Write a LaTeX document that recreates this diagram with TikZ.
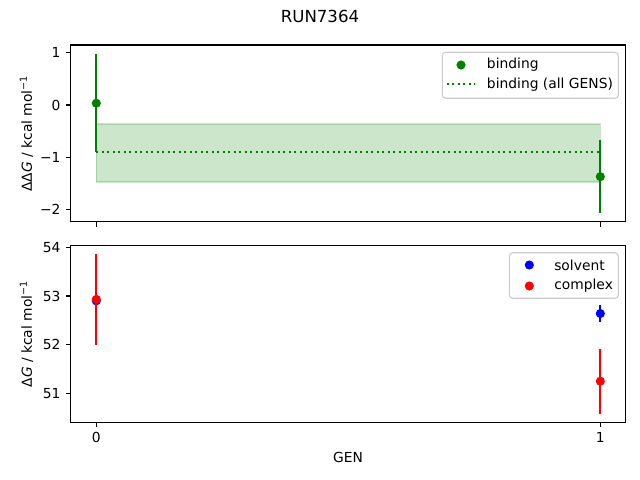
\documentclass[tikz,border=0pt]{standalone}
\usepackage{fontspec}
\setmainfont{DejaVu Sans}
\usepackage{tikz}
\usetikzlibrary{calc}

\definecolor{mplgreen}{RGB}{0,128,0}
\definecolor{mplblue}{RGB}{0,0,255}
\definecolor{mplred}{RGB}{255,0,0}
\definecolor{mplframe}{RGB}{204,204,204}

\tikzset{
  spine/.style={draw=black, line width=0.8pt},
  tickmark/.style={draw=black, line width=0.8pt},
  ticklbl/.style={font=\fontsize{10}{12}\selectfont, inner sep=0pt},
  errbar/.style={line width=1.5pt},
  legendbox/.style={draw=mplframe, fill=white, fill opacity=0.8, line width=0.8pt, rounded corners=2.5pt},
  legendtxt/.style={font=\fontsize{10}{12}\selectfont, anchor=west, inner sep=0pt},
  meanline/.style={draw=mplgreen, line width=1.5pt, dash pattern=on 1.5pt off 2.475pt},
}

% error bar with a dot on top: {x}{mean}{err}{colour}
\newcommand{\ErrDot}[4]{%
  \draw[errbar, #4] (#1,#2-#3) -- (#1,#2+#3);
  \fill[#4] (#1,#2) circle[radius=3.3pt];
}

\begin{document}
\begin{tikzpicture}[x=0.254mm, y=-0.254mm]
  \useasboundingbox (0,0) rectangle (640,480);

  % title
  \node[font=\fontsize{12}{14}\selectfont] (title) at (320,16.5) {RUN7364};

  % ---------- top panel ----------
  \begin{scope}[shift={(96.3,105)}, x=128.02mm, y=13.284mm]
    \fill[mplgreen, opacity=0.2] (0,-0.36) rectangle (1,-1.47);
    \draw[mplgreen, opacity=0.2, line width=1pt] (0,-0.36) rectangle (1,-1.47);
    \draw[meanline] (0,-0.893) -- (1,-0.893);
    \ErrDot{0}{0.033}{0.94}{mplgreen}
    \ErrDot{1}{-1.37}{0.695}{mplgreen}
  \end{scope}

  \draw[spine] (70.5,45) rectangle (625.7,221.8);
  \foreach \v/\lbl in {1/1, 0/0, -1/−1, -2/−2}{
    \draw[tickmark] (70.5,105-52.3*\v) -- ++(-4.86,0);
    \node[ticklbl, anchor=east] (ty\v) at (60.8,105-52.3*\v) {\lbl};
  }
  \foreach \g in {0,1}
    \draw[tickmark] (96.3+504*\g,221.8) -- ++(0,4.86);
  \node[rotate=90, font=\fontsize{10}{12}\selectfont] (ylabtop) at (26.5,133.4)
    {ΔΔ\textit{G} / kcal mol\textsuperscript{−1}};

  % legend top
  \draw[legendbox] (442.3,52.3) rectangle (618.3,98.3);
  \fill[mplgreen] (461,65) circle[radius=3.3pt];
  \node[legendtxt] (lbind) at (486.7,65) {binding};
  \draw[meanline] (446.7,84.3) -- (474.3,84.3);
  \node[legendtxt] (lall) at (486.7,84.3) {binding (all GENS)};

  % ---------- bottom panel ----------
  \begin{scope}[shift={(96.3,296)}, x=128.02mm, y=12.37mm]
    \ErrDot{0}{-0.10}{0.05}{mplblue}
    \ErrDot{1}{-0.36}{0.165}{mplblue}
    \ErrDot{0}{-0.07}{0.93}{mplred}
    \ErrDot{1}{-1.75}{0.665}{mplred}
  \end{scope}

  \draw[spine] (70.5,245.7) rectangle (625.7,422.3);
  \foreach \v in {54,53,52,51}{
    \draw[tickmark] (70.5,296-48.7*\v+48.7*53) -- ++(-4.86,0);
    \node[ticklbl, anchor=east] (tb\v) at (60.8,296-48.7*\v+48.7*53) {\v};
  }
  \foreach \g in {0,1}{
    \draw[tickmark] (96.3+504*\g,422.3) -- ++(0,4.86);
    \node[ticklbl, anchor=north] (tx\g) at (96.3+504*\g,432.1) {\g};
  }
  \node[rotate=90, font=\fontsize{10}{12}\selectfont] (ylabbot) at (26.5,334)
    {Δ\textit{G} / kcal mol\textsuperscript{−1}};
  \node[font=\fontsize{10}{12}\selectfont] (xlab) at (348.1,457) {GEN};

  % legend bottom
  \draw[legendbox] (509.3,252.7) rectangle (618.3,298.3);
  \fill[mplblue] (529.3,265) circle[radius=3.3pt];
  \node[legendtxt] (lsolv) at (554,265) {solvent};
  \fill[mplred] (529.3,286) circle[radius=3.3pt];
  \node[legendtxt] (lcomp) at (554,286) {complex};
\end{tikzpicture}
\end{document}
